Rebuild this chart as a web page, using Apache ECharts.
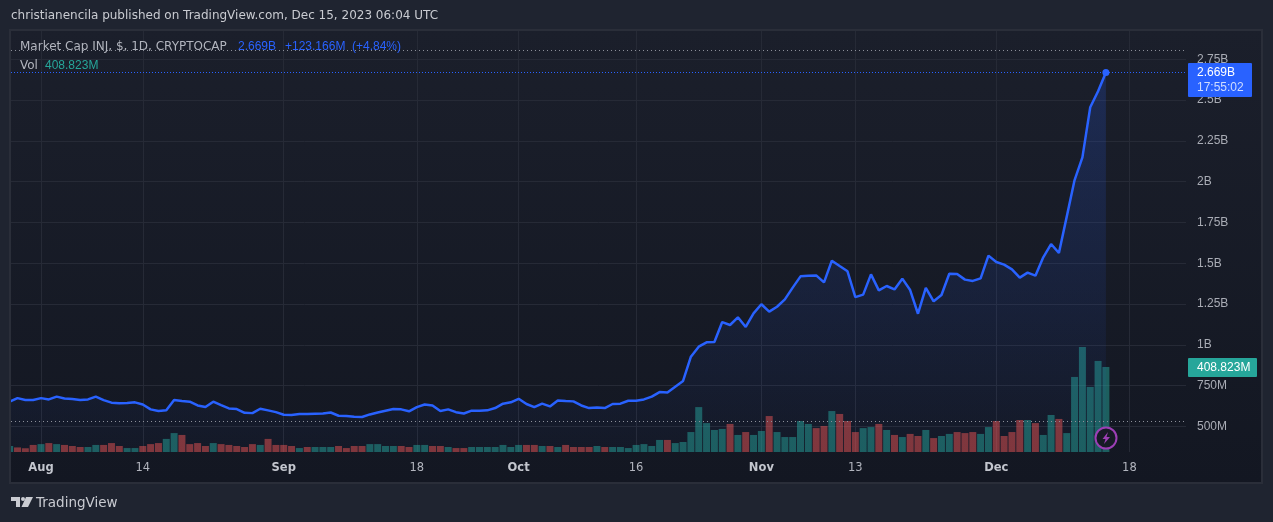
<!DOCTYPE html>
<html><head><meta charset="utf-8">
<script src="https://cdn.jsdelivr.net/npm/echarts@6/dist/echarts.min.js"></script>
<style>html,body{margin:0;padding:0;background:#1f2430}#c{width:1273px;height:522px}</style>
</head><body><div id="c"></div>
<script>
// price in millions, one per day from 28 Jul 2023 to 15 Dec 2023
const priceM = [652,674,662,662,674,666,683,672,668,662,666,683,662,646,642,644,648,635,605,595,
599,662,656,652,629,619,652,631,611,607,584,582,609,599,588,572,570,576,576,578,
580,586,566,564,560,558,574,586,597,607,605,593,619,635,629,595,605,588,580,597,
597,599,613,640,648,670,638,619,640,623,660,656,654,629,613,617,613,638,640,658,
658,666,683,711,709,744,779,928,989,1016,1018,1140,1122,1169,1110,1193,1249,1204,1234,1279,
1351,1420,1424,1426,1383,1516,1483,1451,1293,1308,1432,1334,1361,1340,1406,1336,1191,1349,1267,1306,
1436,1434,1400,1392,1408,1547,1508,1492,1463,1412,1443,1424,1537,1618,1563,1786,2010,2149,2456,2554,2669];
const volumeM = [29,22,18,34,38,43,38,34,29,24,24,34,34,43,29,19,19,29,38,43,
63,91,82,38,43,29,43,38,34,29,24,38,34,63,34,34,29,19,24,24,
24,24,29,19,29,29,38,38,29,29,29,24,34,34,29,29,24,19,19,24,
24,24,24,34,24,34,34,34,29,29,24,34,24,24,24,29,24,24,24,19,
34,38,29,58,58,43,48,96,216,139,106,111,135,82,96,82,101,173,96,72,
72,149,135,115,125,197,183,149,96,115,120,135,106,82,72,87,77,106,67,77,
87,96,91,96,87,120,149,77,96,154,154,139,82,178,159,91,361,505,313,438,409];
const dirs = ["t","r","r","r","t","r","t","r","r","r","t","t","r","r","r","t","t","r","r","r",
"t","t","r","r","r","r","t","r","r","r","r","r","t","r","r","r","r","t","r","t",
"t","t","r","r","r","r","t","t","t","t","r","r","t","t","r","r","t","r","r","t",
"t","t","t","t","t","t","r","r","t","r","t","r","r","r","r","t","r","t","t","t",
"t","t","t","t","r","t","t","t","t","t","t","t","r","t","r","t","t","r","t","t",
"t","t","t","r","r","t","r","r","r","t","t","r","t","r","t","r","r","t","r","t",
"t","r","r","r","t","t","r","r","r","r","t","r","t","t","r","t","t","t","t","t","t"];
const tickDays = [4,17,35,52,65,80,96,108,126,143];
const tickLabels = ["Aug","14","Sep","18","Oct","16","Nov","13","Dec","18"];
const boldTicks = ["Aug","Sep","Oct","Nov","Dec"];
const priceTicks = [500,750,1000,1250,1500,1750,2000,2250,2500,2750];
const priceTickLabels = ["500M","750M","1B","1.25B","1.5B","1.75B","2B","2.25B","2.5B","2.75B"];
const highLine = 2805, lowLine = 532, lastPrice = 2669;

const FONT='"DejaVu Sans"', NUM='"Liberation Sans"';
const chart = echarts.init(document.getElementById('c'),null,{renderer:'canvas'});
const GRIDC='#262a36';
const txt=(x,y,t,c,s,f)=>({type:'text',z:100,silent:true,style:{x,y,text:t,fill:c,font:'normal '+(s||12)+'px '+(f||FONT),textVerticalAlign:'middle'}});
chart.setOption({
  animation:false,
  backgroundColor:'#1f2430',
  grid:{left:11,right:87,top:31,height:421},
  xAxis:{type:'value',min:0.169,max:150.23,
    axisLine:{show:false},
    axisTick:{show:false,customValues:tickDays},
    splitLine:{show:true,lineStyle:{color:GRIDC,width:1}},
    axisLabel:{customValues:tickDays,margin:10,color:'#b2b5be',fontFamily:FONT,fontSize:11.5,
      formatter:v=>{const l=tickLabels[tickDays.indexOf(v)];return boldTicks.includes(l)?'{b|'+l+'}':l;},
      rich:{b:{fontWeight:'bold',color:'#c3c6ce',fontFamily:FONT,fontSize:11.5}}}},
  yAxis:[
   {type:'value',position:'right',min:343.8,max:2923.4,
    axisLine:{show:false},axisTick:{show:false,customValues:priceTicks},
    splitLine:{show:true,lineStyle:{color:GRIDC,width:1}},
    axisLabel:{customValues:priceTicks,margin:11,color:'#a9acb5',fontFamily:NUM,fontSize:12,padding:[2,0,0,0],
      formatter:v=>priceTickLabels[priceTicks.indexOf(v)]}},
   {type:'value',min:0,max:2025,show:false,splitLine:{show:false}}],
  series:[
   {type:'bar',name:'Vol',xAxisIndex:0,yAxisIndex:1,barWidth:7,z:3,clip:true,
    data:volumeM.map((v,i)=>({value:[i,v],itemStyle:{color:dirs[i]==='t'?'rgba(38,166,154,0.5)':'rgba(239,83,80,0.5)'}}))},
   {type:'line',name:'Market Cap INJ',xAxisIndex:0,yAxisIndex:0,z:4,showSymbol:false,smooth:false,clip:true,
    data:priceM.map((v,i)=>[i,v]),
    lineStyle:{color:'#2962ff',width:2.5},
    areaStyle:{color:new echarts.graphic.LinearGradient(0,0,0,1,[{offset:0,color:'rgba(41,98,255,0.28)'},{offset:1,color:'rgba(41,98,255,0.03)'}])},
    markPoint:{silent:true,symbol:'circle',symbolSize:7,itemStyle:{color:'#2962ff'},label:{show:false},
      data:[{coord:[priceM.length-1,lastPrice]}]},
    markLine:{silent:true,symbol:'none',label:{show:false},animation:false,
      data:[
       {yAxis:highLine,lineStyle:{color:'#8d909a',type:[1,3],width:1}},
       {yAxis:lowLine,lineStyle:{color:'#8d909a',type:[1,3],width:1}},
       {yAxis:lastPrice,lineStyle:{color:'#2962ff',type:[1,2],width:1}}]}}
  ],
  graphic:{elements:[
    {type:'rect',z:-5,silent:true,shape:{x:10,y:30,width:1252,height:453},
     style:{fill:new echarts.graphic.LinearGradient(0,0,0,1,[{offset:0,color:'#1b1f2b'},{offset:1,color:'#131722'}]),stroke:'#2a2e39',lineWidth:2}},
    {type:'rect',z:50,silent:true,shape:{x:0,y:30,width:9,height:454},style:{fill:'#1f2430'}},
    {type:'rect',z:50,silent:true,shape:{x:9,y:29,width:2,height:455},style:{fill:'#2a2e39'}},
    txt(11,16,'christianencila published on TradingView.com, Dec 15, 2023 06:04 UTC','#c9cbd1',12),
    txt(20,47,'Market Cap INJ, $, 1D, CRYPTOCAP','#b2b5be',12),
    txt(238,47,'2.669B','#2962ff',12,NUM),
    txt(285,47,'+123.166M','#2962ff',12,NUM),
    txt(352,47,'(+4.84%)','#2962ff',12,NUM),
    txt(20,66,'Vol','#b2b5be',12),
    txt(45,66,'408.823M','#26a69a',12,NUM),
    {type:'rect',z:99,silent:true,shape:{x:1188,y:63,width:64,height:34,r:1},style:{fill:'#2962ff'}},
    txt(1197,73,'2.669B','#ffffff',12,NUM),
    txt(1197,88,'17:55:02','#cfdcff',12,NUM),
    {type:'rect',z:99,silent:true,shape:{x:1188,y:358,width:69,height:19,r:1},style:{fill:'#26a69a'}},
    txt(1197,368,'408.823M','#ffffff',12,NUM),
    {type:'circle',z:99,silent:true,shape:{cx:1106,cy:438,r:10.5},style:{fill:'#171b26',stroke:'#9c3fb5',lineWidth:2}},
    {type:'polygon',z:100,silent:true,shape:{points:[[1108,432],[1102.5,439],[1105.5,439],[1104,444],[1110,437],[1106.5,437]]},style:{fill:'#9c3fb5'}},
    {type:'polygon',z:100,silent:true,shape:{points:[[11,497],[20,497],[20,507],[16,507],[16,501],[11,501]]},style:{fill:'#c9cbd1'}},
    {type:'circle',z:100,silent:true,shape:{cx:23,cy:499,r:2},style:{fill:'#c9cbd1'}},
    {type:'polygon',z:100,silent:true,shape:{points:[[26,497],[33,497],[28,507],[21.5,507]]},style:{fill:'#c9cbd1'}},
    txt(36,503.5,'TradingView','#c9cbd1',13.5)
  ]}
});
</script></body></html>
